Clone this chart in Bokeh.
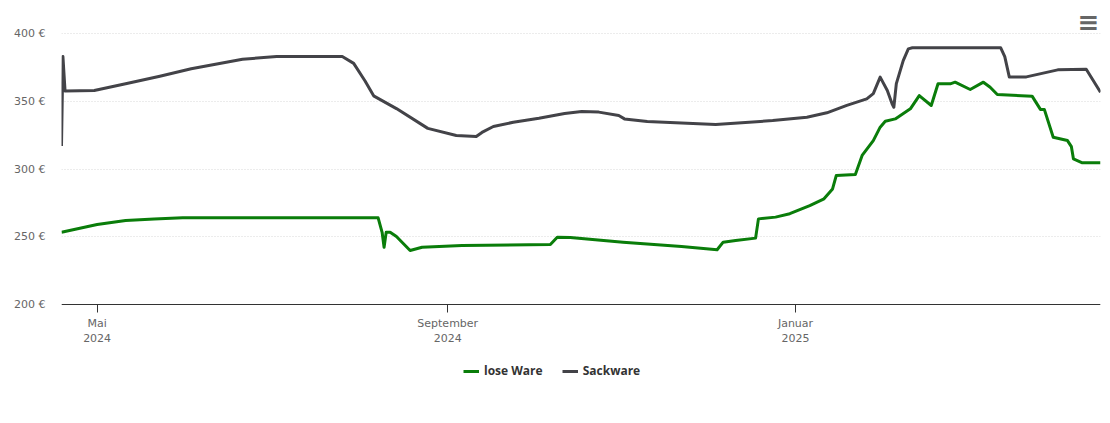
import pandas as pd
from bokeh.plotting import figure
from bokeh.models import (FixedTicker, CustomJSTickFormatter, Legend, LegendItem,
                          Range1d, Label, ColumnDataSource)
from bokeh.embed import file_html
from bokeh.resources import INLINE

sack_dates = ["2024-04-18 12:00", "2024-04-19 00:00", "2024-04-19 18:00", "2024-04-30",
              "2024-05-11", "2024-05-23", "2024-06-03", "2024-06-21", "2024-07-03",
              "2024-07-26", "2024-07-30", "2024-08-03", "2024-08-06", "2024-08-14",
              "2024-08-25", "2024-09-04", "2024-09-11", "2024-09-13", "2024-09-17",
              "2024-09-24", "2024-10-03", "2024-10-12", "2024-10-18", "2024-10-24",
              "2024-10-31", "2024-11-02", "2024-11-10", "2024-12-04", "2024-12-24",
              "2025-01-05", "2025-01-12", "2025-01-19", "2025-01-26", "2025-01-28 07:00",
              "2025-01-30 17:00", "2025-02-02 05:00", "2025-02-03 22:00", "2025-02-04 12:00",
              "2025-02-05 09:00", "2025-02-07 19:00", "2025-02-09 14:00", "2025-02-11",
              "2025-03-14", "2025-03-15 10:00", "2025-03-17", "2025-03-23", "2025-04-03",
              "2025-04-13", "2025-04-18"]
sack_values = [317, 383, 357.5, 358,
               363, 368.5, 374, 381, 383,
               383, 378, 365, 354, 344.6,
               330, 324.7, 324, 327, 331.4,
               334.5, 337.5, 341, 342.4, 342,
               339.5, 337, 335, 332.8, 335.8,
               338.2, 341.5, 347, 351.8, 355.7,
               367.8, 358, 348, 345.6,
               363, 380, 388.7, 389.5,
               389.5, 383, 368, 368, 373.2,
               373.6, 356.7]

lose_dates = ["2024-04-18 12:00", "2024-05-01", "2024-05-11", "2024-05-21", "2024-05-31",
              "2024-08-07 14:00", "2024-08-09 00:00", "2024-08-09 16:00", "2024-08-10 10:00",
              "2024-08-11 19:00", "2024-08-14", "2024-08-18 19:00", "2024-08-23",
              "2024-09-06", "2024-10-07", "2024-10-09 10:00", "2024-10-14", "2024-11-01 12:00",
              "2024-11-22", "2024-12-04 12:00", "2024-12-06 15:00", "2024-12-11", "2024-12-18",
              "2024-12-19", "2024-12-25", "2024-12-30", "2025-01-06", "2025-01-11",
              "2025-01-14", "2025-01-15 07:00", "2025-01-22", "2025-01-24 09:00",
              "2025-01-28 07:00", "2025-01-30 17:00", "2025-02-01 12:00", "2025-02-05",
              "2025-02-10 07:00", "2025-02-13 10:00", "2025-02-17 15:00", "2025-02-20",
              "2025-02-24 07:00", "2025-02-26", "2025-03-03 07:00", "2025-03-07 22:00",
              "2025-03-10 07:00", "2025-03-12 19:00", "2025-03-25", "2025-03-27 22:00",
              "2025-03-29 07:00", "2025-04-01 10:00", "2025-04-06 10:00", "2025-04-07 19:00",
              "2025-04-08 12:00", "2025-04-11 15:00", "2025-04-18"]
lose_values = [253.4, 259, 262, 263.2, 264,
               264, 253, 242.3, 253.4,
               253.4, 250.2, 239.9, 242.3,
               243.5, 244.3, 249.7, 249.5, 246,
               242.8, 240.4, 246, 247.2, 249,
               263.2, 264.5, 267, 273, 278,
               285.3, 295.2, 296, 310,
               321, 330.9, 335.3, 337,
               344.4, 354.2, 346.9, 362.9,
               362.9, 364.1, 358.7, 364.1,
               360.4, 355, 353.8, 344,
               344, 323.5, 321, 316.5,
               307.5, 304.6, 304.6]

tick_dates = ["2024-05-01", "2024-09-01", "2025-01-01"]
tick_labels = ["Mai\n2024", "September\n2024", "Januar\n2025"]
y_ticks = [200, 250, 300, 350, 400]
series_names = ["lose Ware", "Sackware"]

FONT = "DejaVu Sans"

def to_dt(lst):
    return [pd.Timestamp(s) for s in lst]

# frame spans canvas y 10..382; value 200 lands at y=304, 400 at y=33
p = figure(frame_width=1039, frame_height=372, x_axis_type="datetime", output_backend="svg",
           toolbar_location=None, min_border_left=61, min_border_right=10,
           min_border_top=10, min_border_bottom=0,
           x_range=Range1d(pd.Timestamp("2024-04-18 12:00"), pd.Timestamp("2025-04-18")),
           y_range=Range1d(142.44, 417.0))
p.outline_line_color = None
p.background_fill_color = "white"
p.border_fill_color = "white"

src_l = ColumnDataSource(dict(x=to_dt(lose_dates), y=lose_values))
src_s = ColumnDataSource(dict(x=to_dt(sack_dates), y=sack_values))
r1 = p.line("x", "y", source=src_l, line_color="#0a7d0a", line_width=3, line_join="round")
r2 = p.line("x", "y", source=src_s, line_color="#434348", line_width=3, line_join="round")

# grid
p.xgrid.grid_line_color = None
p.ygrid.ticker = FixedTicker(ticks=y_ticks)
p.ygrid.grid_line_color = "#d8d8d8"
p.ygrid.grid_line_dash = "1 2"
p.ygrid.grid_line_width = 1

# y axis
p.yaxis.ticker = FixedTicker(ticks=y_ticks)
p.yaxis.formatter = CustomJSTickFormatter(code="return tick.toFixed(0) + ' €';")
p.yaxis.axis_line_color = None
p.yaxis.major_tick_line_color = None
p.yaxis.minor_tick_line_color = None
p.yaxis.major_label_text_font = FONT
p.yaxis.major_label_text_font_size = "11px"
p.yaxis.major_label_text_color = "#666666"
p.yaxis.major_label_standoff = 10

# x axis, drawn at value 200
tick_ms = [pd.Timestamp(d).value / 1e6 for d in tick_dates]
p.xaxis.fixed_location = 200
p.xaxis.ticker = FixedTicker(ticks=tick_ms)
p.xaxis.formatter = CustomJSTickFormatter(
    args=dict(tvals=tick_ms, tlabs=tick_labels),
    code="const i = tvals.indexOf(tick); return i >= 0 ? tlabs[i] : '';")
p.xaxis.axis_line_color = "#333333"
p.xaxis.axis_line_width = 1
p.xaxis.major_tick_line_color = "#333333"
p.xaxis.major_tick_out = 8
p.xaxis.major_tick_in = 0
p.xaxis.minor_tick_line_color = None
p.xaxis.major_label_text_font = FONT
p.xaxis.major_label_text_font_size = "11px"
p.xaxis.major_label_text_color = "#666666"
p.xaxis.major_label_standoff = 4
p.xaxis.major_label_text_align = "center"

legend = Legend(items=[LegendItem(label=series_names[0], renderers=[r1]),
                       LegendItem(label=series_names[1], renderers=[r2])],
                orientation="horizontal", location=(398, -1))
legend.border_line_alpha = 0
legend.background_fill_alpha = 0
legend.label_text_font = "Open Sans"
legend.label_text_font_style = "bold"
legend.label_text_font_size = "12px"
legend.label_text_color = "#333333"
legend.glyph_width = 16
legend.glyph_height = 14
legend.label_height = 14
legend.label_standoff = 5
legend.spacing = 19
legend.margin = 0
legend.padding = 4
p.add_layout(legend)

menu = Label(x=1027, y=361, x_units="screen", y_units="screen", text="≡",
             text_align="center", text_baseline="middle",
             text_font=FONT, text_font_size="26px", text_font_style="bold",
             text_color="#666666")
p.add_layout(menu)

open("out.html", "w").write(file_html(p, INLINE))
